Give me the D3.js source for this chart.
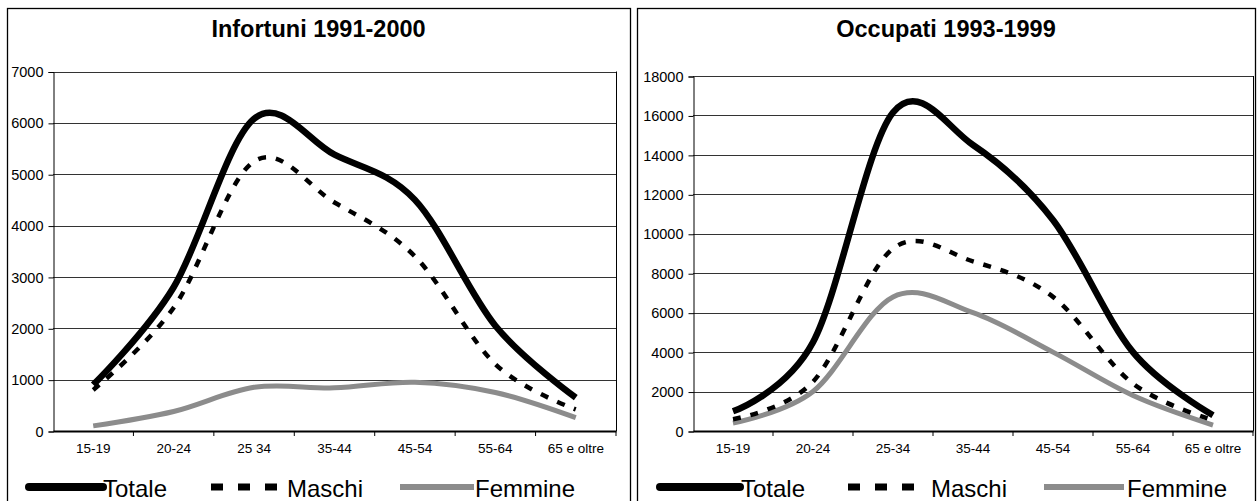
<!DOCTYPE html>
<html lang="it">
<head>
<meta charset="UTF-8">
<title>Infortuni e occupati per classe di età</title>
<style>
  body { margin: 0; background: #fff; }
  svg { display: block; font-family: "Liberation Sans", Arial, sans-serif; }
</style>
</head>
<body>
<svg id="svg" width="1257" height="501"></svg>
<script src="https://d3js.org/d3.v7.min.js"></script>
<script>
// classi di età
const etaInfortuni = ["15-19", "20-24", "25 34", "35-44", "45-54", "55-64", "65 e oltre"]
const etaOccupati = ["15-19", "20-24", "25-34", "35-44", "45-54", "55-64", "65 e oltre"]

// Infortuni 1991-2000
const infortuniTotale = [900, 2800, 6080, 5380, 4500, 2050, 650]
const infortuniMaschi = [800, 2400, 5250, 4450, 3400, 1300, 420]
const infortuniFemmine = [100, 380, 850, 840, 950, 750, 260]
const infortuniTicks = [0, 1000, 2000, 3000, 4000, 5000, 6000, 7000]

// Occupati 1993-1999
const occupatiTotale = [1000, 4500, 16150, 14500, 10700, 4000, 800]
const occupatiMaschi = [600, 2500, 9250, 8600, 6800, 2400, 550]
const occupatiFemmine = [400, 2000, 6800, 6000, 4000, 1800, 300]
const occupatiTicks = [0, 2000, 4000, 6000, 8000, 10000, 12000, 14000, 16000, 18000]

const serie = [
  { name: "Totale", color: "#000", width: 6.5, dash: null },
  { name: "Maschi", color: "#000", width: 4.5, dash: "8,10" },
  { name: "Femmine", color: "#8c8c8c", width: 5, dash: null }
]

const svg = d3.select("#svg")

function drawChart(opt) {
  const g = svg.append("g")

  // cornice del grafico
  g.append("rect")
    .attr("x", opt.box[0] + 0.5).attr("y", 8.5)
    .attr("width", opt.box[1] - opt.box[0]).attr("height", 520)
    .attr("fill", "none").attr("stroke", "#000").attr("stroke-width", 1.3)

  g.append("text")
    .attr("x", (opt.box[0] + opt.box[1]) / 2).attr("y", 37)
    .attr("text-anchor", "middle")
    .style("font-size", "23.5px").style("font-weight", "bold")
    .text(opt.title)

  const x = d3.scaleBand().domain(opt.categories).range([opt.left, opt.right])
  const y = d3.scaleLinear().domain([0, opt.max]).range([431, opt.top])

  // griglia
  g.append("g")
    .selectAll("line")
    .data(opt.ticks.slice(1))
    .join("line")
    .attr("x1", opt.left).attr("x2", opt.right)
    .attr("y1", d => Math.round(y(d)) + 0.5).attr("y2", d => Math.round(y(d)) + 0.5)
    .attr("stroke", "#333").attr("stroke-width", 1)

  g.append("line")
    .attr("x1", opt.right + 0.5).attr("x2", opt.right + 0.5)
    .attr("y1", y(opt.max)).attr("y2", y(0))
    .attr("stroke", "#000")

  // asse y
  const yAxis = g.append("g")
    .attr("transform", `translate(${opt.left + 0.5},0.5)`)
    .call(d3.axisLeft(y).tickValues(opt.ticks).tickSize(5).tickPadding(5).tickFormat(d3.format("d")))
  yAxis.select(".domain").attr("stroke", "#000")
  yAxis.selectAll("text").style("font-size", "14.5px").attr("fill", "#000")

  // asse x
  const xAxis = g.append("g")
    .attr("transform", `translate(0,${y(0)})`)
    .call(d3.axisBottom(x).tickSize(0).tickPadding(12))
  xAxis.select(".domain").attr("stroke", "#000").attr("stroke-width", 2)
  xAxis.selectAll("text").style("font-size", "13.5px").attr("fill", "#000")
  xAxis.append("g")
    .selectAll("line")
    .data(opt.categories.slice(1).concat(["__end"]))
    .join("line")
    .attr("x1", (d, i) => x.range()[0] + x.step() * (i + 1))
    .attr("x2", (d, i) => x.range()[0] + x.step() * (i + 1))
    .attr("y1", 0).attr("y2", 5)
    .attr("stroke", "#000")

  const line = d3.line()
    .x((d, i) => x(opt.categories[i]) + x.bandwidth() / 2)
    .y(d => y(d))
    .curve(d3.curveCatmullRom.alpha(0))

  const plot = [opt.totale, opt.maschi, opt.femmine]
  const order = [2, 1, 0]
  order.forEach(k => {
    g.append("path")
      .attr("d", line(plot[k]))
      .attr("fill", "none")
      .attr("stroke", serie[k].color)
      .attr("stroke-width", serie[k].width)
      .attr("stroke-dasharray", serie[k].dash)
  })

  // legenda
  const lg = g.append("g").attr("transform", `translate(${opt.box[0]},0)`)
  const ly = 487
  serie.forEach((s, k) => {
    const x0 = opt.legend[k]
    if (s.dash) {
      lg.append("line")
        .attr("x1", x0).attr("x2", x0 + 66).attr("y1", ly).attr("y2", ly)
        .attr("stroke", "#000").attr("stroke-width", 7).attr("stroke-dasharray", "12,15")
    } else {
      lg.append("line")
        .attr("x1", x0).attr("x2", x0 + opt.legendLen).attr("y1", ly).attr("y2", ly)
        .attr("stroke", s.color).attr("stroke-width", k === 0 ? 8 : 6)
        .attr("stroke-linecap", k === 0 ? "round" : "butt")
    }
    lg.append("text")
      .attr("x", opt.legendText[k]).attr("y", 497)
      .style("font-size", "24px")
      .text(s.name)
  })
}

drawChart({
  box: [7, 630], title: "Infortuni 1991-2000",
  categories: etaInfortuni, left: 53, right: 616, top: 71.5, max: 7000,
  ticks: infortuniTicks,
  totale: infortuniTotale, maschi: infortuniMaschi, femmine: infortuniFemmine,
  legend: [22, 204, 393], legendText: [96, 280, 468], legendLen: 74
})

drawChart({
  box: [637, 1255], title: "Occupati 1993-1999",
  categories: etaOccupati, left: 693, right: 1253, top: 76, max: 18000,
  ticks: occupatiTicks,
  totale: occupatiTotale, maschi: occupatiMaschi, femmine: occupatiFemmine,
  legend: [23, 211, 407], legendText: [104, 294, 490], legendLen: 80
})
</script>
</body>
</html>
